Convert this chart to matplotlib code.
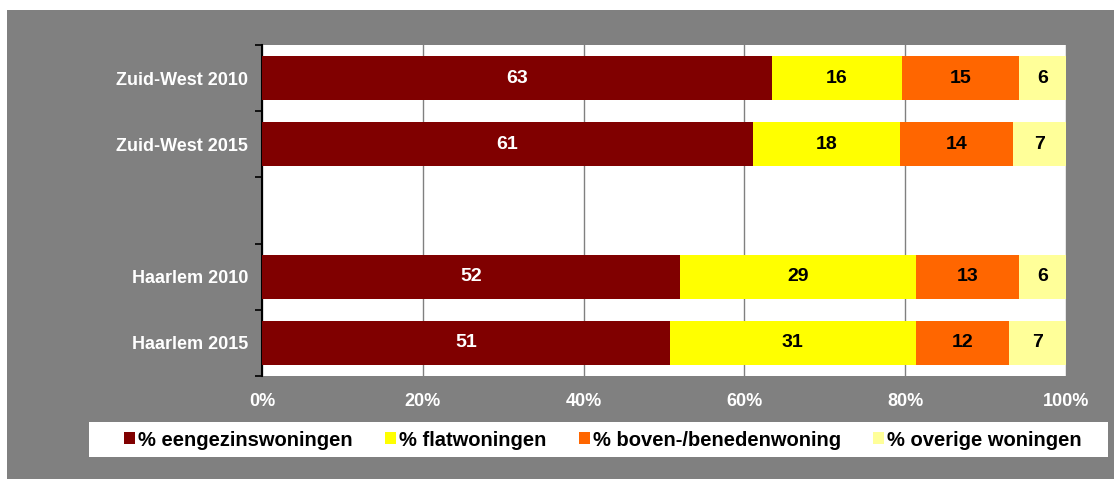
import matplotlib
matplotlib.use("Agg")
import matplotlib.pyplot as plt
from matplotlib.patches import Rectangle
from matplotlib.ticker import FixedLocator

plt.rcParams['font.family'] = ['Liberation Sans', 'DejaVu Sans']

categories = ["Zuid-West 2010", "Zuid-West 2015", "", "Haarlem 2010", "Haarlem 2015"]
series_names = ["% eengezinswoningen", "% flatwoningen", "% boven-/benedenwoning", "% overige woningen"]
eengezins = [63.4, 61.1, None, 52.0, 50.7]
flat = [16.2, 18.3, None, 29.4, 30.6]
boven = [14.6, 14.0, None, 12.7, 11.6]
overige = [5.8, 6.6, None, 6.0, 7.1]
labels_eengezins = ["63", "61", "", "52", "51"]
labels_flat = ["16", "18", "", "29", "31"]
labels_boven = ["15", "14", "", "13", "12"]
labels_overige = ["6", "7", "", "6", "7"]
xticklabels = ["0%", "20%", "40%", "60%", "80%", "100%"]

colors = ["#800000", "#FFFF00", "#FF6600", "#FFFF99"]
text_colors = ["white", "black", "black", "black"]

W, H = 1114, 479
fig = plt.figure(figsize=(W / 100, H / 100), dpi=100)
fig.patch.set_facecolor("white")

# background axes: gray panel + white legend box
bg = fig.add_axes([0, 0, 1, 1], zorder=-10)
bg.set_xlim(0, W)
bg.set_ylim(H, 0)
bg.axis("off")
bg.add_patch(Rectangle((7, 10), W, H, facecolor="#808080", edgecolor="none"))
bg.add_patch(Rectangle((89, 422), 1108 - 89, 35, facecolor="white", edgecolor="none"))

ax = fig.add_axes([262 / W, 1 - 376 / H, (1066 - 262) / W, (376 - 45) / H], zorder=1)
ax.set_facecolor("white")

series = [eengezins, flat, boven, overige]
labels = [labels_eengezins, labels_flat, labels_boven, labels_overige]
ypos = list(range(len(categories)))
left = [0.0] * len(categories)
for s, (vals, labs) in enumerate(zip(series, labels)):
    for i, v in enumerate(vals):
        if v is None:
            continue
        ax.barh(ypos[i], v, left=left[i], height=0.67, color=colors[s], edgecolor="none", zorder=3)
        ax.text(left[i] + v / 2, ypos[i], labs[i], ha="center", va="center",
                color=text_colors[s], fontsize=14, fontweight="bold", zorder=4)
        left[i] += v
# legend proxies
for s in range(4):
    ax.barh([0], [0], color=colors[s], label=series_names[s])

ax.set_xlim(0, 100)
ax.set_ylim(len(categories) - 0.5, -0.5)
ax.set_xticks([0, 20, 40, 60, 80, 100])
ax.set_xticklabels(xticklabels, color="white", fontsize=13, fontweight="bold")
ax.xaxis.grid(True, color="#808080", linewidth=1.0, zorder=1)
ax.set_axisbelow(True)
ax.tick_params(axis="x", length=5, color="#808080", pad=7)

ax.yaxis.set_major_locator(FixedLocator([y - 0.5 for y in range(len(categories) + 1)]))
ax.set_yticklabels([])
ax.yaxis.set_minor_locator(FixedLocator(ypos))
ax.set_yticklabels(categories, minor=True, color="white", fontsize=13, fontweight="bold")
ax.tick_params(axis="y", which="major", length=5, color="black", width=1.2)
ax.tick_params(axis="y", which="minor", length=0, pad=10)

for sp in ["top", "right", "bottom"]:
    ax.spines[sp].set_visible(False)
ax.spines["left"].set_color("black")
ax.spines["left"].set_linewidth(1.5)

handles, hl = ax.get_legend_handles_labels()
leg = fig.legend(handles, hl, loc="center", ncol=4,
                 bbox_to_anchor=((124 + 1082) / 2 / W, 1 - 440 / H),
                 frameon=False, handlelength=0.55, handleheight=0.55,
                 handletextpad=0.15, columnspacing=1.6,
                 prop={"size": 14.5, "weight": "bold"})

fig.savefig("out.png", dpi=100, facecolor=fig.get_facecolor())
